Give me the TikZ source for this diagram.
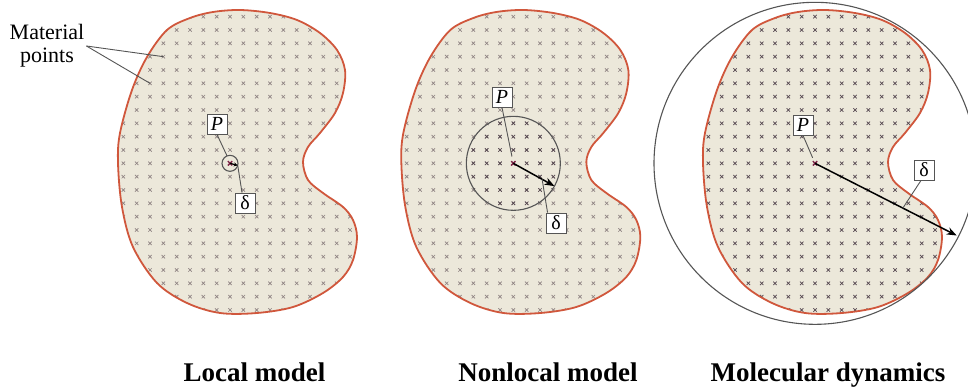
\documentclass[tikz,border=0pt]{standalone}
\usepackage{fontspec}
\setmainfont{Liberation Serif}
\usetikzlibrary{arrows.meta, calc}
\definecolor{body}{HTML}{ECE8DA}
\definecolor{rim}{HTML}{D0573C}
\definecolor{edge}{HTML}{555555}
\definecolor{mpt}{HTML}{8E8282}
\definecolor{mpin}{HTML}{54464F}
\definecolor{ptc}{HTML}{7E2447}
\newcommand{\kidney}{plot[smooth cycle, tension=0.55] coordinates {
  (213,12) (240,10) (270,13) (297,20) (320,33) (337,50) (345,70) (343,93)
  (335,113) (320,133) (308,147) (303,162) (308,180) (323,193) (343,207)
  (353,220) (357,237) (353,260) (343,277) (323,293) (293,307) (257,313)
  (220,313) (187,303) (157,283) (133,247) (122,207) (118,163) (120,133)
  (132,90) (147,57) (167,30) (190,18)}}
\tikzset{
  shp/.style={fill=body},
  rimline/.style={draw=rim, line width=1.8pt},
  xmark/.style={line width=0.7pt},
  hz/.style={draw=edge, line width=1.1pt},
  arr/.style={-{Stealth[length=10pt, width=7.5pt]}, line width=1.5pt, black},
  lead/.style={draw=edge, line width=0.9pt},
  tag/.style={draw=edge, fill=white, line width=0.9pt, inner sep=1.5pt,
    minimum width=20pt, minimum height=20pt, font=\fontsize{20}{20}\selectfont},
  txt/.style={align=center, inner sep=2pt, font=\fontsize{22}{23}\selectfont},
  captxt/.style={anchor=base, inner sep=0pt, font=\fontsize{27}{27}\selectfont\bfseries},
}

\begin{document}
\begin{tikzpicture}[x=1pt, y=-1pt]
\useasboundingbox (0,0) rectangle (968,387);

% bodies with their material points
\foreach \dx/\cc in {0/mpt, 283.33/mpt, 585/mpin} {
  \fill[shp, shift={(\dx,0)}] \kidney;
  \begin{scope}
    \clip[shift={(\dx,0)}] \kidney;
    \foreach \i in {-9,...,10}
      \foreach \j in {-12,...,11}
        \draw[xmark, draw=\cc, shift={(230+\dx+\i*13.333, 163.33+\j*13.333)}]
          (-1.7,-1.7) -- (1.7,1.7) (-1.7,1.7) -- (1.7,-1.7);
  \end{scope}
  \draw[rimline, shift={(\dx,0)}] \kidney;
}

\coordinate (P1) at (230,163.33);
\coordinate (P2) at (513.33,163.33);
\coordinate (P3) at (815,163.33);

% points inside the nonlocal horizon
\begin{scope}
  \clip (P2) circle (47);
  \foreach \i in {-4,...,4}
    \foreach \j in {-4,...,4}
      \draw[xmark, draw=mpin, shift={(513.33+\i*13.333, 163.33+\j*13.333)}]
        (-1.7,-1.7) -- (1.7,1.7) (-1.7,1.7) -- (1.7,-1.7);
\end{scope}

\foreach \p in {P1,P2,P3}
  \draw[ptc, line width=1.3pt] ($(\p)+(-2.2,-2.2)$) -- ($(\p)+(2.2,2.2)$)
    ($(\p)+(-2.2,2.2)$) -- ($(\p)+(2.2,-2.2)$);

% horizons
\draw[hz] (P1) circle (8);
\draw[hz] (P2) circle (47);
\draw[hz] (P3) circle (161);

\coordinate (t1) at ($(P1)+(15:8)$);
\coordinate (t2) at ($(P2)+(29:47)$);
\coordinate (t3) at ($(P3)+(27:159)$);
\draw[-{Stealth[length=4pt, width=4pt]}, line width=1.2pt] (P1) -- (t1);
\draw[arr] (P2) -- coordinate[pos=0.7] (m2) (t2);
\draw[arr] (P3) -- coordinate[pos=0.62] (m3) (t3);

% labels
\node[tag] (lp1) at (217,124) {\textit{P}};
\node[tag] (ld1) at (245,203) {δ};
\node[tag] (lp2) at (502,97) {\textit{P}};
\node[tag] (ld2) at (556,223) {δ};
\node[tag] (lp3) at (803,125) {\textit{P}};
\node[tag] (ld3) at (924,170) {δ};

\draw[lead] (lp1.south) -- ($(P1)+(-3,-7.5)$);
\draw[lead] ([xshift=-3pt]ld1.north) -- (t1);
\draw[lead, shorten >=7pt] (lp2.south) -- (P2);
\draw[lead] ([xshift=2pt]ld2.north west) -- (m2);
\draw[lead, shorten >=6pt] (lp3.south) -- (P3);
\draw[lead] ([xshift=-3pt]ld3.south) -- (m3);

\node[txt] (mat) at (47,46) {Material\\points};
\coordinate (g1) at (163.33,56.67);
\coordinate (g2) at (150,83.33);
\draw[lead] (mat.east) -- (g1);
\draw[lead] (mat.east) -- (g2);

\node[captxt] (c1) at (254.5,381) {Local model};
\node[captxt] (c2) at (548,381) {Nonlocal model};
\node[captxt] (c3) at (828,381) {Molecular dynamics};
\end{tikzpicture}
\end{document}
